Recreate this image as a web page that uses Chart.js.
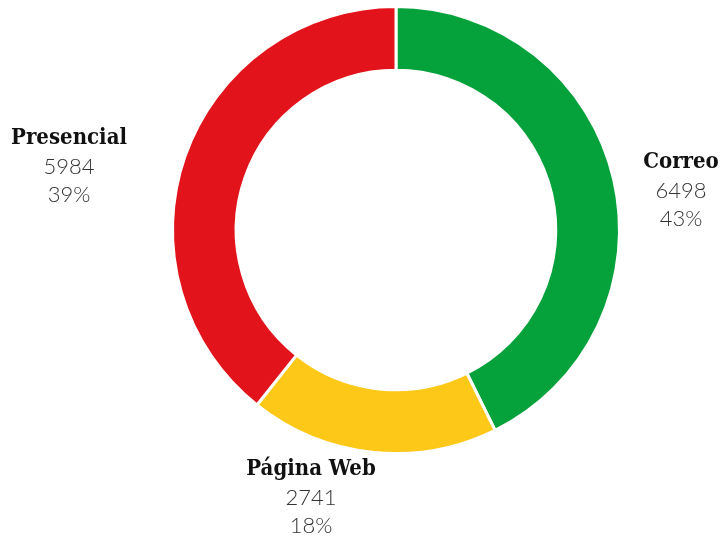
<!DOCTYPE html>
<html>
<head>
<meta charset="utf-8">
<script src="https://cdn.jsdelivr.net/npm/chart.js@4"></script>
<style>
html,body{margin:0;padding:0;background:#fff;}
#wrap{width:721px;height:539px;position:relative;}
</style>
</head>
<body>
<div id="wrap"><canvas id="c" width="721" height="539"></canvas></div>
<script>
const categories = ['Correo', 'Página Web', 'Presencial'];
const values = [6498, 2741, 5984];
const percentLabels = ['43%', '18%', '39%'];
const colors = ['#05A13A', '#FDC817', '#E2131B'];

// label text placement offsets relative to chart centre (layout only)
const labelOffsets = [
  {dx: 285, dy: -68},
  {dx: -85, dy: 239},
  {dx: -327, dy: -92}
];

const labelPlugin = {
  id: 'outerLabels',
  afterDatasetsDraw(chart) {
    const ctx = chart.ctx;
    const meta = chart.getDatasetMeta(0);
    const ds = chart.data.datasets[0];
    meta.data.forEach((arc, i) => {
      const o = labelOffsets[i];
      const x = arc.x + o.dx;
      const y = arc.y + o.dy;
      ctx.save();
      ctx.textAlign = 'center';
      ctx.textBaseline = 'middle';
      ctx.fillStyle = '#111';
      ctx.font = 'bold 22px "DejaVu Serif Condensed", "DejaVu Serif"';
      ctx.fillText(chart.data.labels[i], x, y);
      ctx.fillStyle = '#333';
      ctx.font = '300 22px Lato';
      ctx.fillText(String(ds.data[i]), x, y + 29);
      ctx.fillText(percentLabels[i], x, y + 57);
      ctx.restore();
    });
  }
};

new Chart(document.getElementById('c'), {
  type: 'doughnut',
  data: {
    labels: categories,
    datasets: [{
      data: values,
      backgroundColor: colors,
      borderColor: '#ffffff',
      borderWidth: 3
    }]
  },
  options: {
    responsive: false,
    animation: false,
    cutout: '71.5%',
    layout: {padding: {left: 171, right: 100, top: 5, bottom: 84}},
    plugins: {
      legend: {display: false},
      tooltip: {enabled: false}
    }
  },
  plugins: [labelPlugin]
});
</script>
</body>
</html>
